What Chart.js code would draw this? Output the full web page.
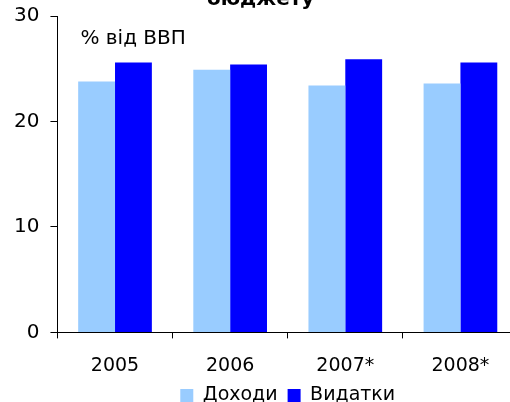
<!DOCTYPE html>
<html>
<head>
<meta charset="utf-8">
<script src="https://cdn.jsdelivr.net/npm/chart.js@4/dist/chart.umd.min.js"></script>
<style>
  html, body { margin: 0; padding: 0; background: #fff; overflow: hidden; }
  #wrap { position: relative; width: 520px; height: 427px; margin-top: -12px; }
</style>
</head>
<body>
<div id="wrap"><canvas id="budgetChart" width="520" height="427"></canvas></div>
<script>
const years = ["2005", "2006", "2007*", "2008*"];
const revenue = [23.8, 24.9, 23.4, 23.6];
const spending = [25.6, 25.4, 25.9, 25.6];
const yTicks = [0, 10, 20, 30];

Chart.defaults.font.family = "'DejaVu Sans', Verdana, sans-serif";
Chart.defaults.font.size = 19;
Chart.defaults.color = "#000";

// подпись "% від ВВП" внутри области графика
const unitLabel = {
  id: "unitLabel",
  afterDraw(chart) {
    const c = chart.ctx;
    c.save();
    c.font = "20px 'DejaVu Sans', Verdana, sans-serif";
    c.fillStyle = "#000";
    c.textBaseline = "middle";
    c.fillText("% від ВВП", chart.chartArea.left + 23, chart.chartArea.top + 23);
    c.restore();
  }
};

let ctx = document.getElementById("budgetChart");

let budgetChart = new Chart(ctx, {
  type: "bar",
  data: {
    labels: years,
    datasets: [
      {
        label: "Доходи",
        data: revenue,
        backgroundColor: "#99CCFF",
        borderWidth: 0,
        barPercentage: 1,
        categoryPercentage: 0.64,
      },
      {
        label: "Видатки",
        data: spending,
        backgroundColor: "#0000FF",
        borderWidth: 0,
        barPercentage: 1,
        categoryPercentage: 0.64,
      },
    ],
  },
  options: {
    responsive: false,
    animation: false,
    layout: { padding: { top: 0, right: 2, left: 3, bottom: 0 } },
    plugins: {
      title: {
        display: true,
        text: "бюджету",
        font: { size: 20, weight: "bold" },
        padding: { top: 0, bottom: 4 },
      },
      legend: {
        position: "bottom",
        fullSize: false,
        labels: {
          boxWidth: 13,
          boxHeight: 13,
          padding: 10,
          font: { size: 19 },
        },
      },
      tooltip: { enabled: false },
    },
    scales: {
      y: {
        min: 0,
        max: 30,
        afterBuildTicks: (axis) => {
          axis.ticks = yTicks.map((v) => ({ value: v }));
        },
        ticks: { padding: 11, font: { size: 20 } },
        grid: {
          drawOnChartArea: false,
          drawTicks: true,
          tickLength: 7,
          color: "#000",
        },
        border: { color: "#000" },
      },
      x: {
        afterFit: (scale) => {
          scale.height -= 18;
        },
        ticks: { padding: 24, font: { size: 19, lineHeight: 0.4 } },
        grid: {
          offset: true,
          drawOnChartArea: false,
          tickLength: 6,
          color: "#000",
        },
        border: { color: "#000" },
      },
    },
  },
  plugins: [unitLabel],
});
</script>
</body>
</html>
